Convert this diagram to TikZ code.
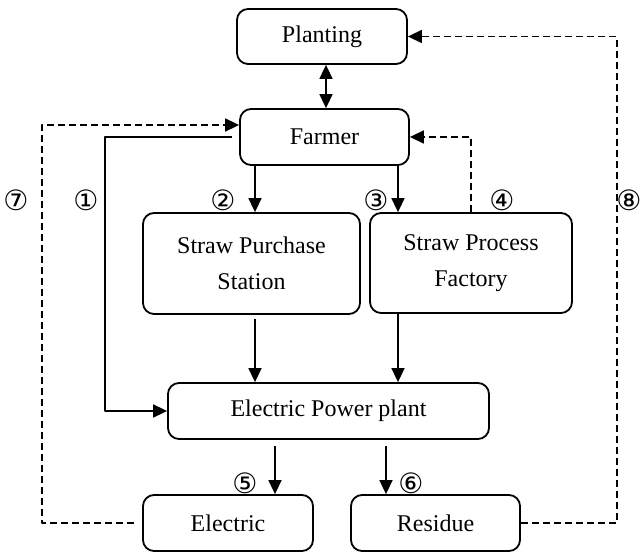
\documentclass[tikz,border=0pt]{standalone}
\usepackage{fontspec}
\setmainfont{Liberation Serif}
\newfontfamily\circfont{DejaVu Sans}
\usetikzlibrary{arrows.meta}
\tikzset{
  every picture/.style={line join=round, >={Triangle[length=14pt,width=13pt]}},
  box/.style={draw, line width=1.8pt, rounded corners=11pt, align=center, inner sep=0pt, font=\fontsize{24}{36}\selectfont},
  arr/.style={->, line width=1.6pt},
  back/.style={->, line width=1.6pt, dash pattern=on 7pt off 4pt},
  num/.style={inner sep=0pt, font=\circfont\fontsize{28}{28}\selectfont},
}

\begin{document}
\begin{tikzpicture}[x=1pt,y=-1pt]
\useasboundingbox (0,0) rectangle (641,553);
\node[box,minimum width=170pt,minimum height=55pt] (plant) at (322,36.5) {Planting};
\node[box,minimum width=169pt,minimum height=56pt] (farmer) at (324.5,137) {Farmer};
\node[box,minimum width=217pt,minimum height=101pt] (purchase) at (251.5,263.5) {Straw Purchase\\Station};
\node[box,minimum width=202pt,minimum height=100pt] (process) at (471,263) {Straw Process\\Factory};
\node[box,minimum width=321pt,minimum height=56pt] (power) at (328.5,411) {Electric Power plant};
\node[box,minimum width=170pt,minimum height=56pt] (elec) at (228,523) {Electric};
\node[box,minimum width=169pt,minimum height=56pt] (resid) at (435.5,523) {Residue};
\coordinate (xm) at (326,0);
\coordinate (xa) at (255,0);
\coordinate (xb) at (398,0);
\coordinate (xc) at (275,0);
\coordinate (xd) at (386,0);
\draw[arr,<->] (xm |- plant.south) -- (xm |- farmer.north);
\draw[arr] (xa |- farmer.south) -- (xa |- purchase.north);
\draw[arr] (xb |- farmer.south) -- (xb |- process.north);
\draw[arr] (xa |- purchase.south) ++(0,4) -- (xa |- power.north);
\draw[arr] (xb |- process.south) -- (xb |- power.north);
\draw[arr] (xc |- power.south) ++(0,6) -- (xc |- elec.north);
\draw[arr] (xd |- power.south) ++(0,6) -- (xd |- resid.north);
\draw[arr] (farmer.west) ++(-7,0) -- ++(-127,0) |- (power.west);
\draw[back] (elec.west) ++(-8,0) -- ++(-92,0) |- ([yshift=12pt]farmer.west);
\draw[back] (process.north) |- (farmer.east);
\draw[back] (resid.east) -- ++(96,0) |- (plant.east);
\foreach \g/\x/\y [count=\i] in {①/86/200, ②/223/200, ③/376/200, ④/502/200, ⑤/245/483, ⑥/411/483, ⑦/16/200, ⑧/629/200}
  \node[num] (lab\i) at (\x,\y) {\g};
\end{tikzpicture}
\end{document}
